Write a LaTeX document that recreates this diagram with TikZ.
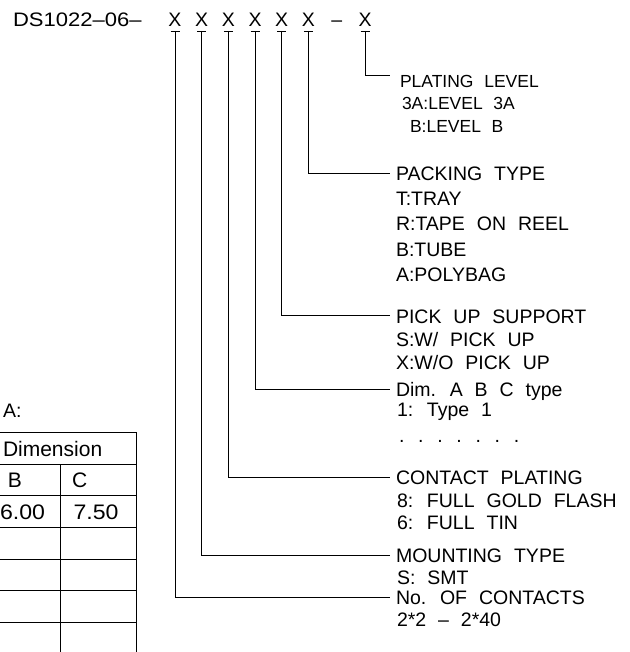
\documentclass[tikz,border=0pt]{standalone}
\usepackage{fontspec}
\setmainfont{Liberation Sans}[WordSpace=2.2]
\begin{document}
\begin{tikzpicture}[x=1pt,y=-1pt,
  every node/.style={inner sep=0pt, outer sep=0pt, font=\fontsize{19.5}{22}\selectfont},
  lbl/.style={anchor=base west},
  small/.style={font=\fontsize{17.5}{20}\selectfont},
  tfont/.style={font=\fontsize{21}{24}\selectfont},
  xch/.style={anchor=base},
  conn/.style={line width=0.9pt},
  tbl/.style={line width=0.9pt}]
\useasboundingbox (0,0) rectangle (629,652);

% code line
\node[lbl] (code) at (13,27) {\scalebox{1.13}[1]{DS1022–06–}};
\node[xch] (x1) at (175,27) {X};
\node[xch] (x2) at (201.7,27) {X};
\node[xch] (x3) at (228.3,27) {X};
\node[xch] (x4) at (255,27) {X};
\node[xch] (x5) at (281.7,27) {X};
\node[xch] (x6) at (308.3,27) {X};
\node[xch] (dsh) at (336.7,27) {–};
\node[xch] (x7) at (365,27) {X};

% underline start points
\foreach \i/\xx in {1/175,2/201.7,3/228.3,4/255,5/281.7,6/308.3,7/365}{
  \coordinate (u\i) at (\xx,31);
  \draw[conn] ([xshift=-4.5pt]u\i) -- ([xshift=4.5pt]u\i);
}

% line ends
\coordinate (e7) at (390,75);
\coordinate (e6) at (390,173);
\coordinate (e5) at (390,315);
\coordinate (e4) at (390,389);
\coordinate (e3) at (390,477);
\coordinate (e2) at (390,555);
\coordinate (e1) at (390,597);

\foreach \i in {1,...,7}{ \draw[conn] (u\i) |- (e\i); }

% right labels
\node[lbl,small] (pl)  at (400,88)  {PLATING LEVEL};
\node[lbl,small] (pl1) at (402,110) {3A:LEVEL 3A};
\node[lbl,small] (pl2) at (410,133) {B:LEVEL B};

\node[lbl] (pk)  at (396,181) {PACKING TYPE};
\node[lbl] (pk1) at (396,205) {T:TRAY};
\node[lbl] (pk2) at (396,230) {R:TAPE ON REEL};
\node[lbl] (pk3) at (396,256) {B:TUBE};
\node[lbl] (pk4) at (396,281) {A:POLYBAG};

\node[lbl] (pu)  at (396,323) {PICK UP SUPPORT};
\node[lbl] (pu1) at (396,346) {S:W/ PICK UP};
\node[lbl] (pu2) at (396,369) {X:W/O PICK UP};

\node[lbl] (dm)  at (396,396) {Dim. A B C type};
\node[lbl] (dm1) at (397,416) {1: Type 1};
\node[lbl] (dm2) at (399,442) {. . . . . . .};

\node[lbl] (cp)  at (396,484) {CONTACT PLATING};
\node[lbl] (cp1) at (397,507) {8: FULL GOLD FLASH};
\node[lbl] (cp2) at (397,529) {6: FULL TIN};

\node[lbl] (mt)  at (396,562) {MOUNTING TYPE};
\node[lbl] (mt1) at (397,584) {S: SMT};

\node[lbl] (nc)  at (396,604) {No. OF CONTACTS};
\node[lbl] (nc1) at (397,626) {2*2 – 2*40};

% table
\node[lbl] (ta) at (3,417) {A:};
\draw[tbl] (0,432.7) -- (136,432.7) -- (136,652);
\draw[tbl] (60,464) -- (60,652);
\foreach \yy in {464,495.7,527.7,559.3,590.7,622.7}{ \draw[tbl] (0,\yy) -- (136,\yy); }
\node[lbl,tfont] (hd) at (3,456) {Dimension};
\node[xch,tfont] (hb) at (15,487) {B};
\node[lbl,tfont] (hc) at (72,487) {C};
\node[lbl,tfont] (v1) at (0,519) {\scalebox{1.1}[1]{6.00}};
\node[xch,tfont] (v2) at (96,519) {\scalebox{1.1}[1]{7.50}};
\end{tikzpicture}
\end{document}
